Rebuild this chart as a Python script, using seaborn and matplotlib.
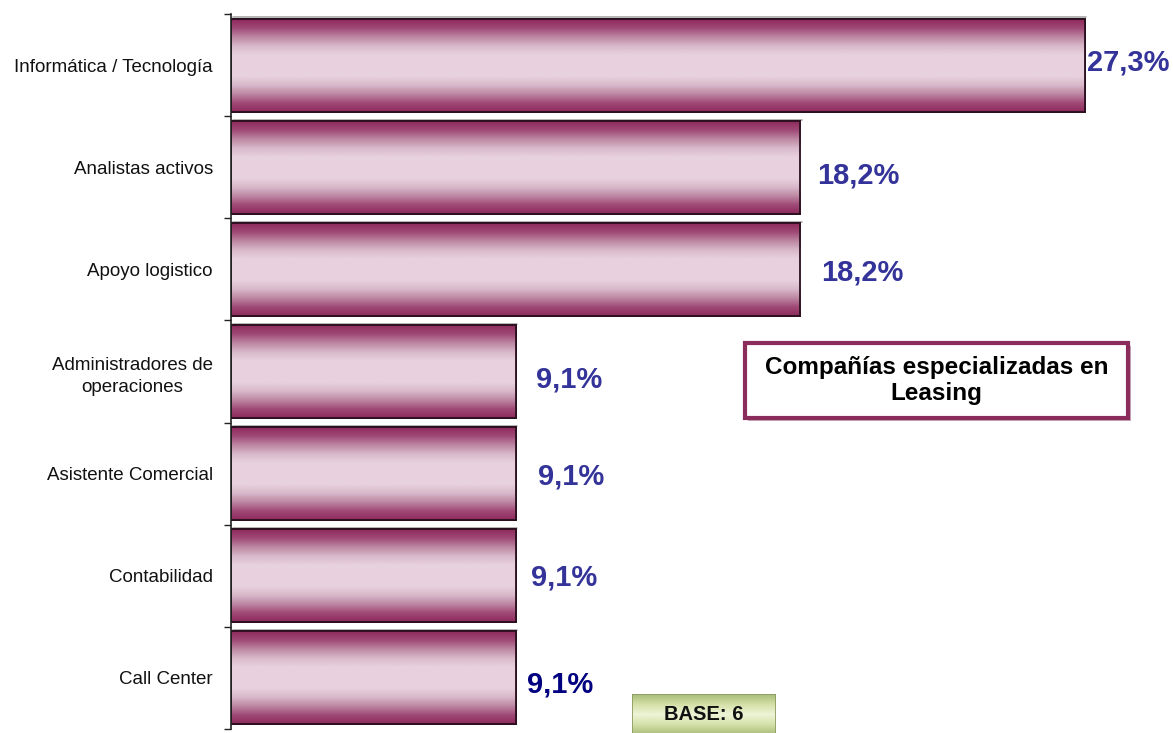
import numpy as np
import pandas as pd
import matplotlib
matplotlib.use("Agg")
import matplotlib.pyplot as plt
from matplotlib.colors import LinearSegmentedColormap
from matplotlib.patches import Rectangle
import seaborn as sns

# Data
categories = [
    "Informática / Tecnología",
    "Analistas activos",
    "Apoyo logistico",
    "Administradores de\noperaciones",
    "Asistente Comercial",
    "Contabilidad",
    "Call Center",
]
values = [27.3, 18.2, 18.2, 9.1, 9.1, 9.1, 9.1]
title_text = "Compañías especializadas en\nLeasing"
base_text = "BASE: 6"

sns.set_theme(style="white")
plt.rcParams["font.family"] = ["Liberation Sans", "DejaVu Sans"]

W, H = 1173, 733
fig = plt.figure(figsize=(W / 100, H / 100), dpi=100)
ax = fig.add_axes([231 / W, 1 - 729 / H, (1169 - 231) / W, (729 - 14) / H])

df = pd.DataFrame({"cat": categories, "val": values})
sns.barplot(data=df, y="cat", x="val", orient="h", width=0.91,
            color="#a0406e", edgecolor="#2a0f1e", linewidth=1.3, ax=ax,
            saturation=1)

ax.set_xlim(0, 30)
ax.set_ylim(len(categories) - 0.5, -0.5)

# vertical gradient fill for each bar
cmap = LinearSegmentedColormap.from_list(
    "maroon", ["#8e2b5c", "#a04a76", "#bd87a3", "#d8b8c9", "#e8d1de"])
t = np.linspace(0, 1, 256)
prof = 1 - np.abs(2 * t - 1)
prof = np.clip(prof * 1.3, 0, 1)
grad = prof.reshape(-1, 1)
for p in ax.patches:
    x0, y0 = p.get_x(), p.get_y()
    w, h = p.get_width(), p.get_height()
    im = ax.imshow(grad, cmap=cmap, aspect="auto", interpolation="bilinear",
                   extent=[x0, x0 + w, y0 + h, y0], zorder=p.get_zorder() + 0.1)
    im.set_clip_path(p)
    edge = Rectangle((x0, y0), w, h, fill=False, edgecolor="#2a0f1e",
                     linewidth=1.3, zorder=p.get_zorder() + 0.2)
    ax.add_patch(edge)
    # faint grey shadow line above each bar
    ax.plot([x0 + 0.05, x0 + w + 0.05], [y0 - 0.012, y0 - 0.012],
            color="#a8a8a8", lw=1.2, zorder=p.get_zorder() - 0.1)

ax.set_xlim(0, 30)
ax.set_ylim(len(categories) - 0.5, -0.5)

# value labels
label_colors = ["#333399"] * 6 + ["#000080"]
x_pad_px = [2, 17, 21, 20, 22, 15, 11]
y_off = [-0.03, 0.08, 0.03, 0.08, 0.03, 0.02, 0.06]
px_per_unit = (1169 - 231) / 30
for i, v in enumerate(values):
    ax.text(v + x_pad_px[i] / px_per_unit, i + y_off[i],
            f"{v:.1f}".replace(".", ",") + "%",
            ha="left", va="center", fontsize=21, fontweight="bold",
            color=label_colors[i])

# axes styling
for s in ["top", "right", "bottom"]:
    ax.spines[s].set_visible(False)
ax.spines["left"].set_color("#222222")
ax.spines["left"].set_linewidth(1.2)
ax.set_xlabel("")
ax.set_ylabel("")
ax.set_xticks([])
ax.tick_params(axis="y", which="major", length=0, pad=13, labelsize=13.5,
               labelcolor="#111111")
ax.set_yticks(range(len(categories)))
ax.set_yticklabels(categories, ha="right", multialignment="center",
                   linespacing=1.45)
ax.set_yticks(np.arange(-0.5, len(categories), 1.0), minor=True)
ax.tick_params(axis="y", which="minor", length=5, width=1, color="#222222",
               left=True)

# title box
bx0, by0, bw, bh = 745 / W, 1 - 418 / H, 383 / W, 75 / H
fig.patches.append(Rectangle((bx0 + 3 / W, by0 - 3 / H), bw, bh,
                             transform=fig.transFigure, facecolor="#c9a8b8",
                             edgecolor="none", zorder=1))
fig.patches.append(Rectangle((bx0, by0), bw, bh, transform=fig.transFigure,
                             facecolor="white", edgecolor="#8a2d5c",
                             linewidth=3, zorder=2))
fig.text(bx0 + bw / 2, by0 + bh / 2, title_text, ha="center", va="center",
         fontsize=17.5, fontweight="bold", color="#000000", linespacing=1.2,
         zorder=3)

# base box with green gradient
gx0, gy0, gw, gh = 632 / W, 1 - 735 / H, 144 / W, 41 / H
gax = fig.add_axes([gx0, gy0, gw, gh])
gcmap = LinearSegmentedColormap.from_list(
    "green", ["#a9bb78", "#d4e0a8", "#eef4d6", "#d4e0a8", "#a9bb78"])
gax.imshow(np.linspace(0, 1, 128).reshape(-1, 1), cmap=gcmap, aspect="auto",
           extent=[0, 1, 0, 1], interpolation="bilinear")
gax.set_xlim(0, 1)
gax.set_ylim(0, 1)
gax.set_axis_off()
gax.add_patch(Rectangle((0, 0), 1, 1, fill=False, edgecolor="#8c9a60",
                        linewidth=1.2))
gax.text(0.5, 0.5, base_text, ha="center", va="center", fontsize=14.5,
         fontweight="bold", color="#111111")

fig.savefig("out.png", dpi=100)
